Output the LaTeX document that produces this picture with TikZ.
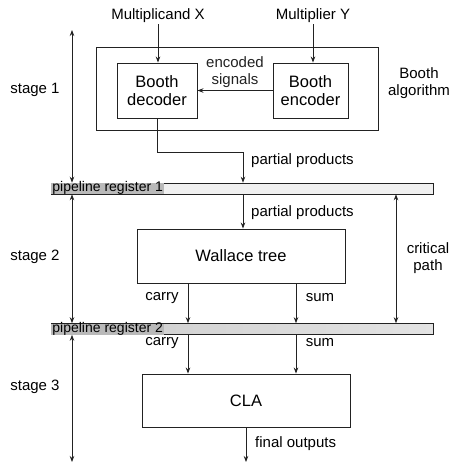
\documentclass[tikz,border=0pt]{standalone}
\usepackage{fontspec}
\setmainfont{Liberation Sans}
\usetikzlibrary{arrows.meta, positioning, calc}
\definecolor{linea}{HTML}{222222}
\tikzset{
  bloque/.style={rectangle, draw=linea, line width=0.9pt, align=center,
    font=\fontsize{16.5}{18}\selectfont, inner sep=0pt},
  registro/.style={rectangle, draw=linea, line width=0.6pt,
    minimum width=382pt, minimum height=11pt, inner sep=0pt},
  regtexto/.style={rectangle, fill=gray!55, anchor=west, inner xsep=1.5pt,
    inner ysep=1pt, text height=7.5pt, text depth=1.5pt,
    font=\fontsize{14}{14}\selectfont},
  texto/.style={font=\fontsize{15}{17}\selectfont, align=center, inner sep=1pt},
  flecha/.style={-{Stealth[length=6pt,width=4.5pt]}, line width=0.8pt, linea},
  doble/.style={{Stealth[length=6pt,width=4.5pt]}-{Stealth[length=6pt,width=4.5pt]},
    line width=0.8pt, linea}
}

\begin{document}
\begin{tikzpicture}[x=1pt, y=-1pt]
  \useasboundingbox (0,0) rectangle (452,464);

  % --- Stage 1: Booth ---
  \node[texto] (mx) at (158,16) {Multiplicand X};
  \node[texto] (my) at (313,16) {Multiplier Y};
  \node[bloque, minimum width=282pt, minimum height=83pt] (booth) at (237,88.5) {};
  \node[bloque, minimum width=80pt, minimum height=55pt] (dec) at (157,90.5) {Booth\\decoder};
  \node[bloque, minimum width=75pt, minimum height=55pt] (enc) at (310.5,90.5) {Booth\\encoder};
  \node[texto] (alg) at (419,83) {Booth\\algorithm};

  \draw[flecha] (mx) -- (mx |- dec.north);
  \draw[flecha] (my) -- (my |- enc.north);
  \draw[flecha] (enc) -- (dec) node[texto, midway, above=1pt] {encoded\\signals};

  % --- Pipeline registers ---
  \node[registro, fill=gray!12] (reg1) at (242,188.5) {};
  \node[regtexto] (rt1) at (reg1.west) {pipeline register 1};
  \node[registro, left color=gray!40, right color=gray!22] (reg2) at (242,329) {};
  \node[regtexto] (rt2) at (reg2.west) {pipeline register 2};

  \coordinate (codo) at (243,152);
  \draw[flecha] (dec.south) |- (codo) -- (codo |- reg1.north);
  \node[texto, anchor=west] (pp1) at (250,161) {partial products};

  % --- Stage 2: Wallace tree ---
  \node[bloque, minimum width=208pt, minimum height=54pt] (wal) at (241,256) {Wallace tree};
  \draw[flecha] (codo |- reg1.south) -- (codo |- wal.north);
  \node[texto, anchor=west] (pp2) at (250,213) {partial products};

  \coordinate (cx) at (188,0);
  \coordinate (sx) at (296,0);
  \draw[flecha] (cx |- wal.south) -- (cx |- reg2.north);
  \draw[flecha] (sx |- wal.south) -- (sx |- reg2.north);
  \node[texto] (c1) at (162,298) {carry};
  \node[texto] (s1) at (320,298) {sum};

  \coordinate (crit) at (396,0);
  \draw[doble] (crit |- reg1.south) -- (crit |- reg2.north);
  \node[texto] (cp) at (428,258) {critical\\path};

  % --- Stage 3: CLA ---
  \node[bloque, minimum width=208pt, minimum height=53pt] (cla) at (246,400.5) {CLA};
  \draw[flecha] (cx |- reg2.south) -- (cx |- cla.north);
  \draw[flecha] (sx |- reg2.south) -- (sx |- cla.north);
  \node[texto] (c2) at (162,343) {carry};
  \node[texto] (s2) at (320,343) {sum};

  \coordinate (fin) at (246,462);
  \draw[flecha] (cla.south) -- (fin);
  \node[texto, anchor=west] (fo) at (254,444) {final outputs};

  % --- Stages ---
  \coordinate (etop) at (72,30);
  \coordinate (ebot) at (72,462);
  \draw[doble] (etop) -- (etop |- reg1.north);
  \draw[doble] (etop |- reg1.south) -- (etop |- reg2.north);
  \draw[doble] (ebot |- reg2.south) -- (ebot);
  \node[texto] (e1) at (35,90) {stage 1};
  \node[texto] (e2) at (35,257) {stage 2};
  \node[texto] (e3) at (35,387) {stage 3};

\end{tikzpicture}
\end{document}
